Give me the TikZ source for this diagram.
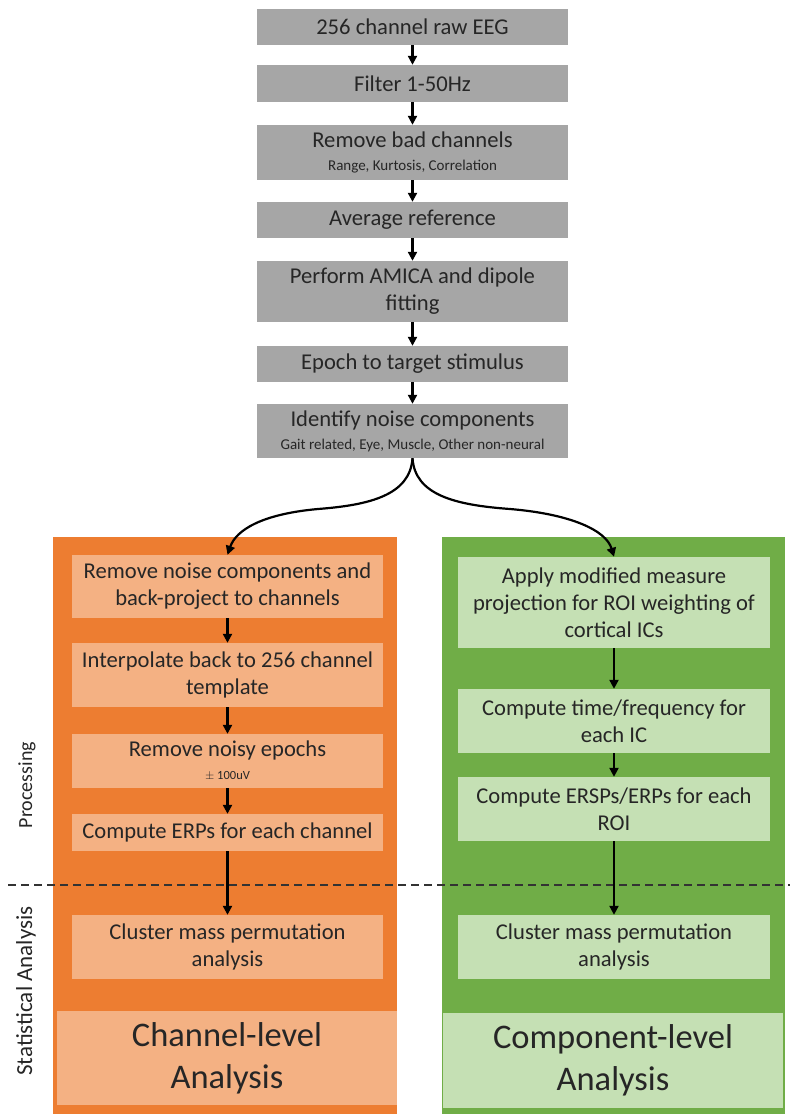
\documentclass[tikz,border=0pt]{standalone}
\usepackage{fontspec}
\setmainfont{Carlito}
\usetikzlibrary{arrows.meta}
\definecolor{boxgray}{HTML}{A6A6A6}
\definecolor{orpanel}{HTML}{ED7D31}
\definecolor{orbox}{HTML}{F4B183}
\definecolor{grpanel}{HTML}{70AD47}
\definecolor{grbox}{HTML}{C5E0B4}
\definecolor{txt}{HTML}{262626}
\tikzset{
  base/.style={rectangle, inner sep=0pt, align=center, text=txt,
    font=\fontsize{22.6}{27}\selectfont},
  graybox/.style={base, fill=boxgray},
  orbx/.style={base, fill=orbox},
  grbx/.style={base, fill=grbox},
  bigtext/.style={font=\fontsize{34.5}{42}\selectfont},
  arr/.style={line width=2.2pt, draw=black, -{Triangle[length=9pt,width=9pt]}},
}
\newcommand{\sm}[1]{\\[-4pt]{\fontsize{15}{16}\selectfont #1}}
\begin{document}
\begin{tikzpicture}[x=1pt,y=-1pt]
\useasboundingbox (0,0) rectangle (790,1114);
% top chain
\node[graybox, minimum width=311, minimum height=36] (g1) at (412.5,27) {256 channel raw EEG};
\node[graybox, minimum width=311, minimum height=37] (g2) at (412.5,83.5) {Filter 1-50Hz};
\node[graybox, minimum width=311, minimum height=55] (g3) at (412.5,152.5) {Remove bad channels\sm{Range, Kurtosis, Correlation}};
\node[graybox, minimum width=311, minimum height=36] (g4) at (412.5,220) {Average reference};
\node[graybox, minimum width=311, minimum height=61] (g5) at (412.5,291.5) {Perform AMICA and dipole\\fitting};
\node[graybox, minimum width=311, minimum height=36] (g6) at (412.5,364) {Epoch to target stimulus};
\node[graybox, minimum width=311, minimum height=54] (g7) at (412.5,431) {Identify noise components\sm{Gait related, Eye, Muscle, Other non-neural}};
\foreach \a/\b in {g1/g2,g2/g3,g3/g4,g4/g5,g5/g6,g6/g7}
  \draw[arr] (\a.south) -- (\b.north);
% panels
\node[rectangle, fill=orpanel, minimum width=344, minimum height=577, inner sep=0pt] (op) at (225,825.5) {};
\node[rectangle, fill=grpanel, minimum width=343, minimum height=577, inner sep=0pt] (gp) at (613.5,825.5) {};
% orange column
\node[orbx, minimum width=311, minimum height=63] (o1) at (227.5,586.5) {Remove noise components and\\back-project to channels};
\node[orbx, minimum width=311, minimum height=64] (o2) at (227.5,675) {Interpolate back to 256 channel\\template};
\node[orbx, minimum width=311, minimum height=54] (o3) at (227.5,761) {Remove noisy epochs\\[-4pt]{\fontsize{12.5}{14}\selectfont $\pm$ 100uV}};
\node[orbx, minimum width=311, minimum height=37] (o4) at (227.5,832.5) {Compute ERPs for each channel};
\node[orbx, minimum width=311, minimum height=64] (o5) at (227.5,947) {Cluster mass permutation\\analysis};
\node[orbx, bigtext, minimum width=340, minimum height=94] (o6) at (227,1058) {Channel-level\\Analysis};
% green column
\node[grbx, minimum width=312, minimum height=91] (e1) at (614,602.5) {Apply modified measure\\projection for ROI weighting of\\cortical ICs};
\node[grbx, minimum width=312, minimum height=64] (e2) at (614,721) {Compute time/frequency for\\each IC};
\node[grbx, minimum width=312, minimum height=64] (e3) at (614,809) {Compute ERSPs/ERPs for each\\ROI};
\node[grbx, minimum width=312, minimum height=64] (e4) at (614,947) {Cluster mass permutation\\analysis};
\node[grbx, bigtext, minimum width=340, minimum height=95] (e5) at (613,1060.5) {Component-level\\Analysis};
% dashed separator
\coordinate (dl) at (8,885);
\coordinate (dr) at (790,885);
\draw[line width=2pt, dash pattern=on 8pt off 5pt, draw=black!80] (dl) -- (dr);
% arrows
\foreach \a/\b in {o1/o2,o2/o3,o3/o4,o4/o5,e1/e2,e2/e3,e3/e4}
  \draw[arr] (\a.south) -- (\b.north);
% split
\draw[arr] (g7.south) .. controls (410,495) and (370,505) .. (318,509) .. controls (262,514) and (236,530) .. (o1.north);
\draw[arr] (g7.south) .. controls (415,495) and (455,505) .. (510,509) .. controls (570,514) and (606,530) .. (e1.north);
% side labels
\node[rotate=90, text=txt, font=\fontsize{20}{22}\selectfont] (lp) at (27,785) {Processing};
\node[rotate=90, text=txt, font=\fontsize{23}{25}\selectfont] (ls) at (26,991) {Statistical Analysis};
\end{tikzpicture}
\end{document}
